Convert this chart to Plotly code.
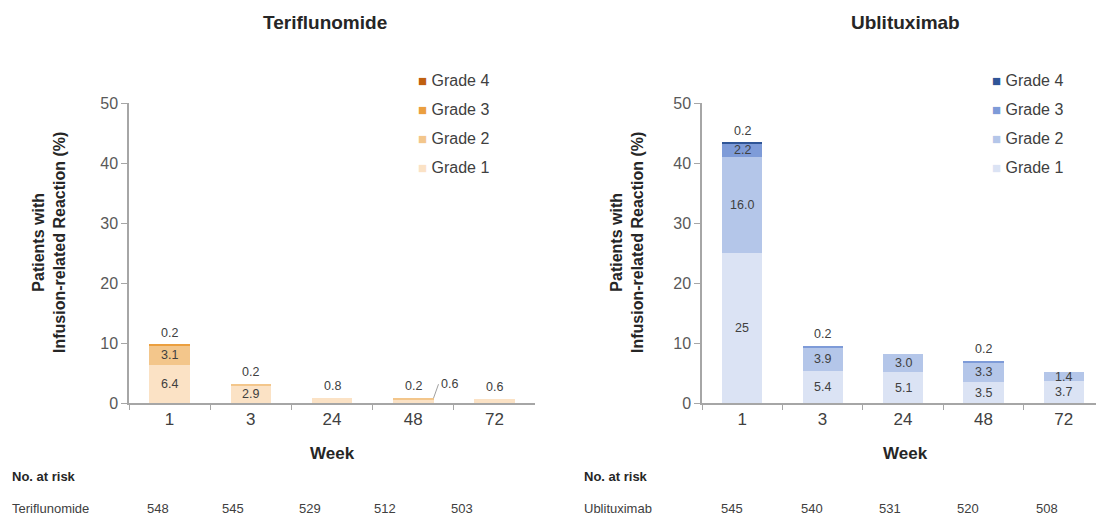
import plotly.graph_objects as go

weeks = ["1", "3", "24", "48", "72"]
grades = ["Grade 1", "Grade 2", "Grade 3", "Grade 4"]

teri_g1 = [6.4, 2.9, 0.8, 0.6, 0.6]
teri_g2 = [3.1, 0.2, 0.0, 0.2, 0.0]
teri_g3 = [0.2, 0.0, 0.0, 0.0, 0.0]
teri_g4 = [0.0, 0.0, 0.0, 0.0, 0.0]

ubli_g1 = [25, 5.4, 5.1, 3.5, 3.7]
ubli_g2 = [16.0, 3.9, 3.0, 3.3, 1.4]
ubli_g3 = [2.2, 0.2, 0.0, 0.2, 0.0]
ubli_g4 = [0.2, 0.0, 0.0, 0.0, 0.0]

teri_labels = [["6.4", "2.9", "0.8", "0.6", "0.6"],
               ["3.1", "0.2", "", "0.2", ""],
               ["0.2", "", "", "", ""],
               ["", "", "", "", ""]]
ubli_labels = [["25", "5.4", "5.1", "3.5", "3.7"],
               ["16.0", "3.9", "3.0", "3.3", "1.4"],
               ["2.2", "0.2", "", "0.2", ""],
               ["0.2", "", "", "", ""]]

teri_risk = [548, 545, 529, 512, 503]
ubli_risk = [545, 540, 531, 520, 508]

teri_colors = ["#fbe2c5", "#f3c68b", "#eb9f3f", "#c0600f"]
ubli_colors = ["#dbe3f4", "#b4c6e9", "#7e9bd8", "#2f5597"]

FONT = "Liberation Sans, Arial, sans-serif"
TXT = "#404040"
# page body has an 8px margin: figure occupies 8..1104 x 8..520
OFF = 8
W, H = 1104 - OFF, 520 - OFF


def px(x):
    return (x - OFF) / W


def py(y):
    return 1 - (y - OFF) / H


fig = go.Figure()

panels = [
    ("x", "y", [teri_g1, teri_g2, teri_g3, teri_g4], teri_labels, teri_colors, 416),
    ("x2", "y2", [ubli_g1, ubli_g2, ubli_g3, ubli_g4], ubli_labels, ubli_colors, 990),
]

annotations = []
for xa, ya, series, labels, colors, legx in panels:
    for i, (vals, col) in enumerate(zip(series, colors)):
        fig.add_trace(go.Bar(
            x=weeks, y=vals, name=grades[i], marker=dict(color=col, line=dict(width=0)),
            xaxis=xa, yaxis=ya, showlegend=False, hoverinfo="skip",
        ))
    for j, w in enumerate(weeks):
        base = 0.0
        total = sum(s[j] for s in series)
        small = []
        for i, vals in enumerate(series):
            v = vals[j]
            lab = labels[i][j]
            if lab and v >= 1.0:
                annotations.append(dict(x=j, y=base + v / 2, xref=xa, yref=ya, text=lab,
                                        showarrow=False, font=dict(size=12.5, color=TXT, family=FONT)))
            elif lab:
                small.append(lab)
            base += v
        if small:
            annotations.append(dict(x=j, y=total, xref=xa, yref=ya, text=small[-1],
                                    showarrow=False, yanchor="bottom", yshift=3,
                                    font=dict(size=12.5, color=TXT, family=FONT)))
            for lab in small[:-1][::-1]:
                annotations.append(dict(x=j + 0.25, y=total, xref=xa, yref=ya, text=lab,
                                        showarrow=True, arrowhead=0, arrowwidth=1, arrowcolor="#a0a0a0",
                                        ax=5, ay=-14, xanchor="left",
                                        font=dict(size=12.5, color=TXT, family=FONT)))
    # legend drawn as text with coloured squares (Grade 4 on top)
    for k, i in enumerate([3, 2, 1, 0]):
        annotations.append(dict(x=px(legx), y=py(80 + 29 * k), xref="paper", yref="paper",
                                xanchor="left", yanchor="middle",
                                text="<span style='color:%s;font-size:15px'>■</span> %s" % (colors[i], grades[i]),
                                showarrow=False, font=dict(size=16, color=TXT, family=FONT)))

# titles
for x, t in [(325, "Teriflunomide"), (905, "Ublituximab")]:
    annotations.append(dict(x=px(x), y=py(22), xref="paper", yref="paper", text="<b>" + t + "</b>",
                            xanchor="center", yanchor="middle",
                            showarrow=False, font=dict(size=19, color="#262626", family=FONT)))
# y titles
for x in [49, 627]:
    annotations.append(dict(x=px(x), y=py(243), xref="paper", yref="paper",
                            xanchor="center", yanchor="middle",
                            text="<b>Patients with<br>Infusion-related Reaction (%)</b>", textangle=-90,
                            showarrow=False, font=dict(size=16, color="#262626", family=FONT)))
# Week labels
for x in [332, 905]:
    annotations.append(dict(x=px(x), y=py(453), xref="paper", yref="paper", text="<b>Week</b>",
                            xanchor="center", yanchor="middle",
                            showarrow=False, font=dict(size=17, color="#262626", family=FONT)))
# risk table
for x0, name, risk, xs in [(10, "Teriflunomide", teri_risk, [158, 233, 310, 385, 462]),
                           (582, "Ublituximab", ubli_risk, [732, 812, 890, 968, 1047])]:
    annotations.append(dict(x=px(x0), y=py(476), xref="paper", yref="paper", text="<b>No. at risk</b>",
                            xanchor="left", yanchor="middle",
                            showarrow=False, font=dict(size=13, color="#262626", family=FONT)))
    annotations.append(dict(x=px(x0), y=py(508), xref="paper", yref="paper", text=name,
                            xanchor="left", yanchor="middle",
                            showarrow=False, font=dict(size=13, color=TXT, family=FONT)))
    for xp, r in zip(xs, risk):
        annotations.append(dict(x=px(xp), y=py(508), xref="paper", yref="paper", text=str(r),
                                xanchor="center", yanchor="middle",
                                showarrow=False, font=dict(size=13, color=TXT, family=FONT)))

ydom = [py(403), py(103)]
axis_common = dict(showgrid=False, zeroline=False, showline=True, linecolor="#a6a6a6", linewidth=1.5,
                   ticks="outside", tickcolor="#a6a6a6", ticklen=5, tickwidth=1,
                   tickfont=dict(size=17, color=TXT, family=FONT))
xaxis_common = dict(axis_common, type="category", tickson="boundaries", range=[-0.5, 4.5], fixedrange=True)
yaxis_common = dict(axis_common, range=[0, 50], tickvals=[0, 10, 20, 30, 40, 50], ticklen=6,
                    tickfont=dict(size=16, color="#595959", family=FONT))

fig.update_layout(
    width=W, height=H,
    margin=dict(l=0, r=0, t=0, b=0, pad=0, autoexpand=False),
    paper_bgcolor="white", plot_bgcolor="white",
    barmode="stack", bargap=0.5,
    font=dict(family=FONT, color=TXT),
    xaxis=dict(xaxis_common, domain=[px(129), px(535)], anchor="y"),
    yaxis=dict(yaxis_common, domain=ydom, anchor="x"),
    xaxis2=dict(xaxis_common, domain=[px(702), 1.0], anchor="y2"),
    yaxis2=dict(yaxis_common, domain=ydom, anchor="x2"),
    annotations=annotations,
    showlegend=False,
)

fig.write_html("out.html")
